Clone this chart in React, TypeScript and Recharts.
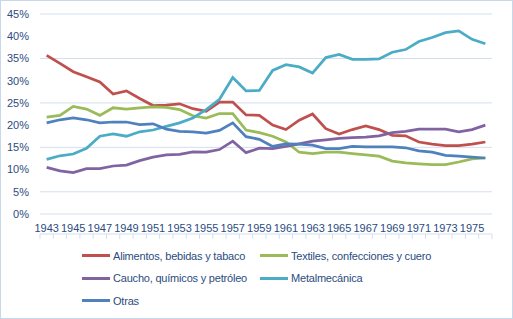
import { LineChart, Line, XAxis, YAxis, CartesianGrid } from "recharts";

const YEARS = [
  1943, 1944, 1945, 1946, 1947, 1948, 1949, 1950, 1951, 1952, 1953, 1954,
  1955, 1956, 1957, 1958, 1959, 1960, 1961, 1962, 1963, 1964, 1965, 1966,
  1967, 1968, 1969, 1970, 1971, 1972, 1973, 1974, 1975, 1976,
];

const ALIMENTOS = [
  35.7, 33.9, 32.0, 30.9, 29.7, 27.0, 27.7, 26.0, 24.4, 24.5, 24.8, 23.7,
  23.1, 25.2, 25.2, 22.3, 22.2, 20.0, 19.0, 21.1, 22.5, 19.2, 18.0, 19.0,
  19.8, 19.0, 17.7, 17.6, 16.2, 15.7, 15.4, 15.4, 15.7, 16.2,
];
const TEXTILES = [
  21.8, 22.2, 24.2, 23.6, 22.2, 23.9, 23.6, 23.9, 24.1, 24.0, 23.5, 22.1,
  21.6, 22.6, 22.6, 18.9, 18.3, 17.5, 16.2, 13.9, 13.6, 13.9, 13.9, 13.6,
  13.3, 13.0, 11.9, 11.5, 11.3, 11.1, 11.1, 11.7, 12.4, 12.6,
];
const CAUCHO = [
  10.5, 9.7, 9.3, 10.2, 10.2, 10.8, 11.0, 12.0, 12.8, 13.3, 13.4, 14.0,
  13.9, 14.5, 16.4, 13.8, 14.8, 14.7, 15.2, 15.8, 16.4, 16.7, 17.0, 17.2,
  17.3, 17.6, 18.3, 18.6, 19.1, 19.1, 19.1, 18.5, 19.0, 20.0,
];
const METAL = [
  12.3, 13.1, 13.5, 14.8, 17.5, 18.0, 17.5, 18.5, 18.9, 19.7, 20.5, 21.6,
  23.5, 25.8, 30.7, 27.7, 27.8, 32.3, 33.6, 33.1, 31.7, 35.2, 35.9, 34.8,
  34.8, 34.9, 36.4, 37.0, 38.8, 39.7, 40.8, 41.2, 39.3, 38.3,
];
const OTRAS = [
  20.5, 21.2, 21.6, 21.2, 20.5, 20.7, 20.7, 20.1, 20.3, 19.1, 18.6, 18.5,
  18.2, 18.8, 20.5, 17.4, 16.8, 15.2, 15.8, 15.7, 15.5, 14.7, 14.7, 15.2,
  15.1, 15.1, 15.1, 14.9, 14.2, 13.9, 13.2, 13.0, 12.8, 12.6,
];

const Y_TICKS = [0, 5, 10, 15, 20, 25, 30, 35, 40, 45];
const LABEL_TICKS = YEARS.filter((y) => y % 2 === 1);
// tick marks sit between the years, like Excel's category axis
const MARK_TICKS = [...YEARS.map((y) => y - 0.5), YEARS[YEARS.length - 1] + 0.5];

const SERIES = [
  { key: "alimentos", name: "Alimentos, bebidas y tabaco", color: "#C0504D", values: ALIMENTOS },
  { key: "textiles", name: "Textiles, confecciones y cuero", color: "#9BBB59", values: TEXTILES },
  { key: "caucho", name: "Caucho, químicos y petróleo", color: "#8064A2", values: CAUCHO },
  { key: "metal", name: "Metalmecánica", color: "#4BACC6", values: METAL },
  { key: "otras", name: "Otras", color: "#4F81BD", values: OTRAS },
];

const data = YEARS.map((year, i) => {
  const row: Record<string, number> = { year };
  SERIES.forEach((s) => (row[s.key] = s.values[i]));
  return row;
});

const TEXT = "#2B4C80";
const GRID = "#D3DFEE";
const FONT = "'Liberation Sans', Arial, sans-serif";

export default function App() {
  return (
    <div
      style={{
        position: "absolute",
        left: 0,
        top: 0,
        width: 513,
        height: 319,
        boxSizing: "border-box",
        border: "1px solid #C9D7EA",
        background: "#fff",
        fontFamily: FONT,
      }}
    >
      <div style={{ position: "absolute", left: -1, top: -1 }}>
        <LineChart
          width={513}
          height={319}
          data={data}
          margin={{ top: 14, right: 21, left: 0, bottom: 84 }}
        >
          <CartesianGrid vertical={false} stroke={GRID} xAxisId="marks" />
          <XAxis
            xAxisId="marks"
            dataKey="year"
            type="number"
            domain={[1942.5, 1976.5]}
            ticks={MARK_TICKS}
            tickFormatter={() => ""}
            height={1}
            tickSize={5}
            axisLine={{ stroke: GRID }}
            tickLine={{ stroke: GRID }}
            allowDataOverflow
          />
          <XAxis
            xAxisId="labels"
            dataKey="year"
            type="number"
            domain={[1942.5, 1976.5]}
            ticks={LABEL_TICKS}
            interval={0}
            height={20}
            axisLine={false}
            tickLine={false}
            tickSize={0}
            tickMargin={10}
            tick={{ fill: TEXT, fontSize: 11, fontFamily: FONT }}
            allowDataOverflow
          />
          <YAxis
            domain={[0, 45]}
            ticks={Y_TICKS}
            width={40}
            axisLine={false}
            tickLine={false}
            tickSize={0}
            tickMargin={11}
            tickFormatter={(v) => `${v}%`}
            tick={{ fill: TEXT, fontSize: 11, fontFamily: FONT }}
          />
          {SERIES.map((s) => (
            <Line
              key={s.key}
              xAxisId="marks"
              dataKey={s.key}
              name={s.name}
              stroke={s.color}
              strokeWidth={2.75}
              dot={false}
              activeDot={false}
              isAnimationActive={false}
            />
          ))}
        </LineChart>
      </div>
      <div
        style={{
          position: "absolute",
          left: 81,
          top: 244,
          display: "grid",
          gridTemplateColumns: "178px 200px",
          rowGap: 1,
          fontSize: 11,
          letterSpacing: -0.2,
          color: TEXT,
        }}
      >
        {SERIES.map((s) => (
          <div key={s.key} style={{ display: "flex", alignItems: "center", height: 21.5 }}>
            <span
              style={{
                display: "inline-block",
                width: 28,
                height: 3,
                background: s.color,
                marginRight: 3,
              }}
            />
            <span style={{ whiteSpace: "nowrap" }}>{s.name}</span>
          </div>
        ))}
      </div>
    </div>
  );
}
